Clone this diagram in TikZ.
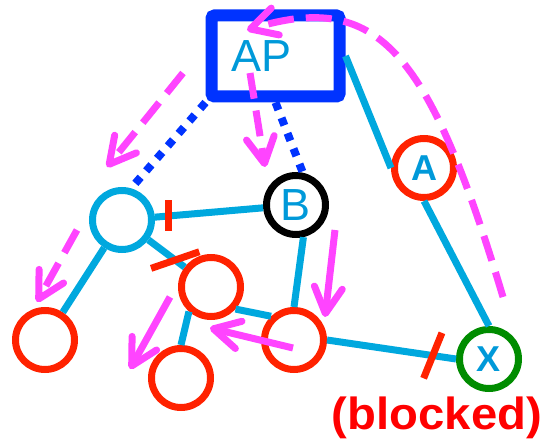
\documentclass[tikz,border=0pt]{standalone}
\usepackage{fontspec}
\setmainfont{Liberation Sans}
\usepackage{xcolor}
\usepackage{tikz}
\usetikzlibrary{arrows.meta}
\definecolor{mLink}{HTML}{00A8DE}
\definecolor{mText}{HTML}{0099D9}
\definecolor{mAP}{HTML}{0033FF}
\definecolor{mRed}{HTML}{FF2200}
\definecolor{mGreen}{HTML}{008C00}
\definecolor{mPink}{HTML}{FF44FF}

\begin{document}
\begin{tikzpicture}[x=1pt, y=-1pt,
    site/.style={draw, circle, line width=7pt, minimum size=59pt, inner sep=0pt, text=mText},
    link/.style={draw=mLink, line width=7pt},
    cut/.style={fill=mRed, minimum height=7pt, inner sep=0pt},
    beacon/.style={draw=mAP, line width=8pt, dash pattern=on 8pt off 8.5pt},
    hop/.style={draw=mPink, line width=7pt, -{Straight Barb[length=26pt, width=28pt, round]}},
    probe/.style={hop, dash pattern=on 26pt off 12pt}]
    \useasboundingbox (0,0) rectangle (544,443);
    \node[draw=mAP, line width=12pt, rounded corners=3pt, minimum width=128pt, minimum height=81pt, text width=89pt, inner xsep=19.5pt, align=left, text=mText, font=\fontsize{45}{50}\selectfont] (AP) at (275.5,56) {AP};
    \node[site, draw=mLink] (n1) at (122,220) {};
    \node[site, draw=black, font=\fontsize{45}{50}\selectfont] (B) at (296,205) {B};
    \node[site, draw=mRed, font=\bfseries\fontsize{36}{40}\selectfont] (A) at (424,168) {A};
    \node[site, draw=mGreen, font=\bfseries\fontsize{36}{40}\selectfont] (X) at (489,359) {X};
    \node[site, draw=mRed] (n2) at (211,287) {};
    \node[site, draw=mRed] (n3) at (181,378) {};
    \node[site, draw=mRed] (n4) at (294,340) {};
    \node[site, draw=mRed] (n5) at (45,340) {};
    \node[text=red, font=\bfseries\fontsize{45}{50}\selectfont, anchor=base, inner sep=0pt] (blk) at (437,430) {\scalebox{1.05}[1]{(blocked)}};

    \draw[link] (AP.east) -- (A.west);
    \draw[link] (A.south) -- (X.north);
    \draw[link] (n1) -- (B) node[cut, pos=0.13, minimum width=31pt, rotate=90] (c1) {};
    \draw[link] (n1) -- (n5);
    \draw[link] (n1) -- (n2) node[cut, pos=0.74, minimum width=51pt, rotate=19] (c2) {};
    \draw[link] (n2.-132) -- (n3.north);
    \draw[link] (n2.-42) -- (n4.134);
    \draw[link] (B.-77) -- (n4.north);
    \draw[link] (n4.east) -- (X.west) node[cut, pos=0.82, minimum width=49pt, rotate=68] (c3) {};
    \draw[beacon] (AP.south west) -- (n1.74);
    \draw[beacon] (AP.south) -- (B.78);

    \coordinate (p1a) at (183,73);  \coordinate (p1b) at (107,167);
    \coordinate (p2a) at (250,73);  \coordinate (p2b) at (265,167);
    \coordinate (p3a) at (77,230);  \coordinate (p3b) at (37,302);
    \coordinate (p4a) at (503,297); \coordinate (p4b) at (247,30);
    \coordinate (p5a) at (335,230); \coordinate (p5b) at (325,317);
    \coordinate (p6a) at (293,348); \coordinate (p6b) at (210,328);
    \coordinate (p7a) at (170,297); \coordinate (p7b) at (130,369);
    \draw[probe] (p1a) -- (p1b);
    \draw[probe] (p2a) -- (p2b);
    \draw[probe] (p3a) -- (p3b);
    \draw[probe] (p4a) .. controls (428,47) and (377,-9) .. (p4b);
    \draw[hop] (p5a) -- (p5b);
    \draw[hop] (p6a) -- (p6b);
    \draw[hop] (p7a) -- (p7b);
\end{tikzpicture}
\end{document}
